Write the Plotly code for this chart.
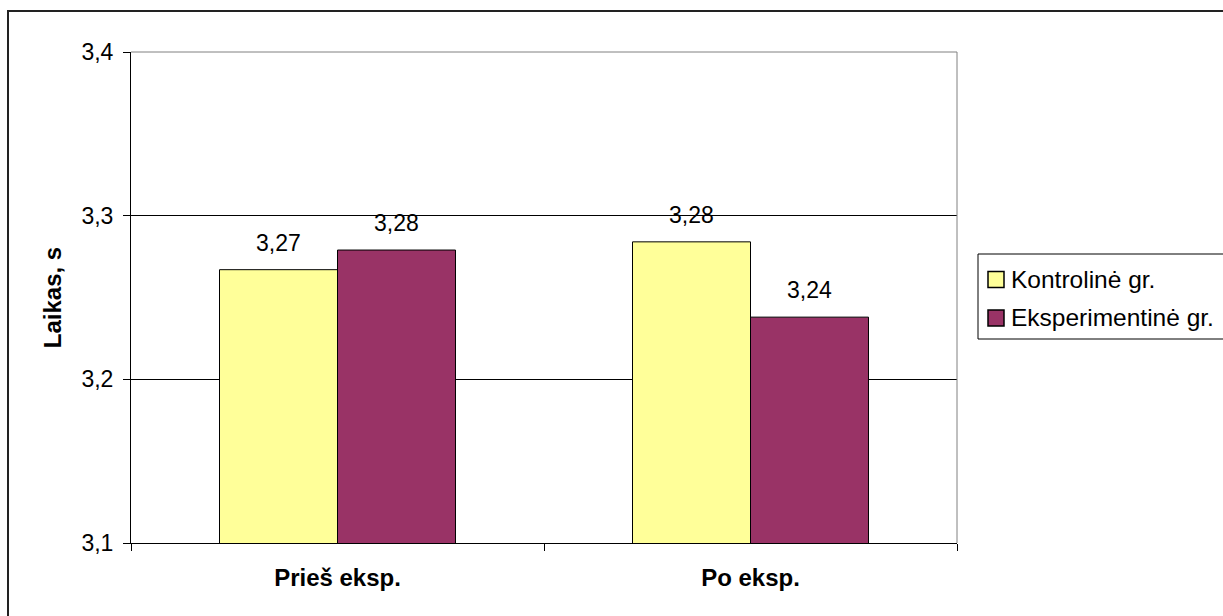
import plotly.graph_objects as go

# Reaction time, seconds, before and after the experiment
categories = ["Prieš eksp.", "Po eksp."]
kontroline = [3.267, 3.284]
eksperimentine = [3.279, 3.238]
series_names = ["Kontrolinė gr.", "Eksperimentinė gr."]
y_ticks = [3.1, 3.2, 3.3, 3.4]

FONT = "Liberation Sans, Arial, sans-serif"
YELLOW = "#FFFF99"
PURPLE = "#993366"
NUM_SIZE = 23
TXT_SIZE = 24
LEG_SIZE = 24.5

W, H = 1223, 616
M_L, M_R, M_T, M_B = 131, 266, 52, 73
PW, PH = W - M_L - M_R, H - M_T - M_B


def px(xp):
    """pixel x -> paper x"""
    return (xp - M_L) / PW


def py(yp):
    """pixel y -> paper y"""
    return (H - M_B - yp) / PH


series = [(series_names[0], kontroline, YELLOW),
          (series_names[1], eksperimentine, PURPLE)]

fig = go.Figure()
for name, vals, color in series:
    fig.add_trace(go.Bar(
        x=categories, y=vals, name=name, showlegend=False,
        marker=dict(color=color, line=dict(color="black", width=1)),
    ))

# value labels above each bar
for (name, vals, color), shift in zip(series, [-59, 59]):
    for cat, v in zip(categories, vals):
        fig.add_annotation(
            x=cat, y=v, xref="x", yref="y",
            text=f"{v:.2f}".replace(".", ","),
            showarrow=False, xshift=shift, yshift=27,
            yanchor="middle", xanchor="center",
            font=dict(family=FONT, size=NUM_SIZE, color="black"),
        )

shapes = [
    # outer chart frame
    dict(type="rect", xref="paper", yref="paper",
         x0=px(8), x1=px(1300), y0=py(700), y1=py(11),
         line=dict(color="#222222", width=2), layer="below"),
    # grey top and right edges of the plot area
    dict(type="path", xref="paper", yref="paper",
         path="M 0 1 L 1 1 L 1 0",
         line=dict(color="#808080", width=1), layer="above"),
    # legend box
    dict(type="rect", xref="paper", yref="paper",
         x0=px(978), x1=px(1300), y0=py(339), y1=py(254),
         line=dict(color="black", width=1), fillcolor="white", layer="above"),
]

# legend entries
for i, (name, vals, color) in enumerate(series):
    cy = 279.5 + i * 38.5
    shapes.append(dict(type="rect", xref="paper", yref="paper",
                       x0=px(988), x1=px(1004), y0=py(cy + 8), y1=py(cy - 8),
                       line=dict(color="black", width=1.5), fillcolor=color,
                       layer="above"))
    fig.add_annotation(
        x=px(1009), y=py(cy), xref="paper", yref="paper",
        text=name, showarrow=False, xanchor="left", yanchor="middle",
        font=dict(family=FONT, size=LEG_SIZE, color="black"),
    )

fig.update_layout(
    width=W, height=H,
    margin=dict(l=M_L, r=M_R, t=M_T, b=M_B, autoexpand=False),
    paper_bgcolor="white", plot_bgcolor="white",
    barmode="group", bargap=0.4286, bargroupgap=0,
    separators=",.",
    font=dict(family=FONT, size=TXT_SIZE, color="black"),
    showlegend=False,
    shapes=shapes,
)

fig.update_yaxes(
    range=[3.1, 3.4], tickvals=y_ticks, tickformat=".1f",
    showgrid=True, gridcolor="black", gridwidth=1,
    showline=True, linecolor="black", linewidth=1,
    ticks="outside", ticklen=7, tickcolor="black",
    ticklabelstandoff=5,
    zeroline=False,
    tickfont=dict(family=FONT, size=NUM_SIZE, color="black"),
    title=dict(text="<b>Laikas, s</b>", standoff=13,
               font=dict(family=FONT, size=TXT_SIZE, color="black")),
)
fig.update_xaxes(
    showline=True, linecolor="black", linewidth=1,
    ticks="outside", ticklen=7, tickcolor="black", tickson="boundaries",
    showgrid=False,
    tickfont=dict(family=FONT, size=TXT_SIZE, color="black"),
    tickvals=categories,
    ticktext=[f"<b>{c}</b>" for c in categories],
    ticklabelstandoff=13,
)

fig.write_html("out.html")
